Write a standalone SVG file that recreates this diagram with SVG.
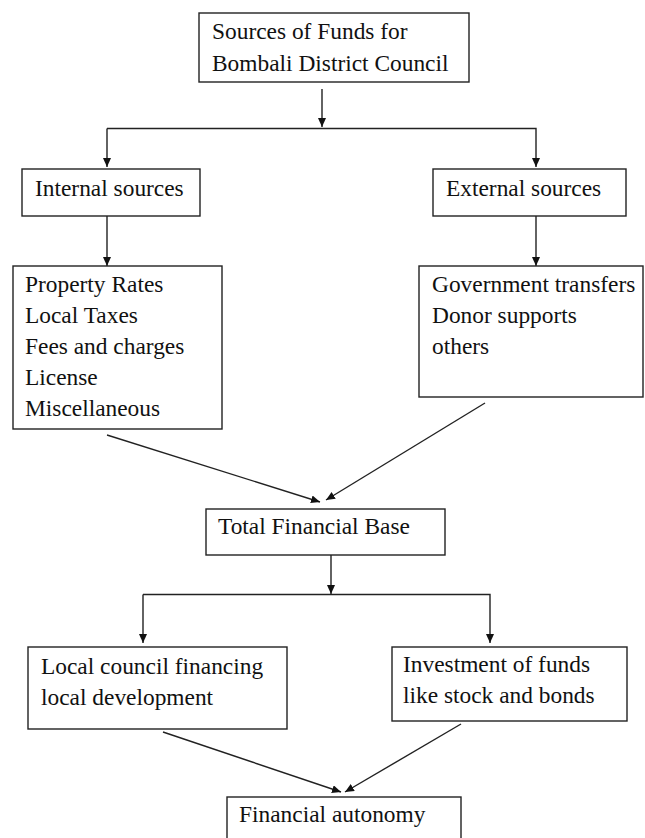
<svg xmlns="http://www.w3.org/2000/svg" width="645" height="838" viewBox="0 0 645 838">
<style>
.box{fill:#fff;stroke:#222;stroke-width:1.4}
.t{font-family:'Liberation Serif','Times New Roman','DejaVu Serif',serif;font-size:23.4px;fill:#111}
.c{fill:none;stroke:#222;stroke-width:1.4}
</style>
<defs>
<marker id="ah" markerUnits="userSpaceOnUse" markerWidth="10" markerHeight="9" refX="9" refY="4" orient="auto">
<path d="M0,0 L9,4 L0,8 z" fill="#111"/>
</marker>
</defs>
<rect width="645" height="838" fill="#fff"/>
<g id="connectors">
<line class="c" x1="322" y1="89" x2="322" y2="127" marker-end="url(#ah)"/>
<polyline class="c" points="107,128.5 536,128.5 536,167" marker-end="url(#ah)"/>
<path class="c" d="M107,128.5 L107,167" marker-end="url(#ah)"/>
<line class="c" x1="107" y1="216" x2="107" y2="266" marker-end="url(#ah)"/>
<line class="c" x1="536" y1="216" x2="536" y2="266" marker-end="url(#ah)"/>
<line class="c" x1="107" y1="435" x2="320" y2="502" marker-end="url(#ah)"/>
<line class="c" x1="485" y1="403" x2="326" y2="500" marker-end="url(#ah)"/>
<line class="c" x1="331" y1="555" x2="331" y2="594" marker-end="url(#ah)"/>
<polyline class="c" points="143,594.5 490,594.5 490,643" marker-end="url(#ah)"/>
<path class="c" d="M143,594.5 L143,643" marker-end="url(#ah)"/>
<line class="c" x1="163" y1="732" x2="341" y2="792" marker-end="url(#ah)"/>
<line class="c" x1="461" y1="724" x2="345" y2="792" marker-end="url(#ah)"/>
</g>
<g id="n-sources">
<rect class="box" x="199" y="13" width="270" height="69"/>
<text class="t" font-family="Liberation Serif, serif" x="212" y="39">Sources of Funds for</text>
<text class="t" font-family="Liberation Serif, serif" x="212" y="71">Bombali District Council</text>
</g>
<g id="n-internal">
<rect class="box" x="22" y="169" width="178" height="47"/>
<text class="t" x="35" y="196">Internal sources</text>
</g>
<g id="n-external">
<rect class="box" x="433" y="169" width="193" height="47"/>
<text class="t" x="446" y="196">External sources</text>
</g>
<g id="n-internal-list">
<rect class="box" x="13" y="266" width="209" height="163"/>
<text class="t" x="25" y="292">Property Rates</text>
<text class="t" x="25" y="323">Local Taxes</text>
<text class="t" x="25" y="354">Fees and charges</text>
<text class="t" x="25" y="385">License</text>
<text class="t" x="25" y="416">Miscellaneous</text>
</g>
<g id="n-external-list">
<rect class="box" x="419" y="266" width="224" height="131"/>
<text class="t" x="432" y="292">Government transfers</text>
<text class="t" x="432" y="323">Donor supports</text>
<text class="t" x="432" y="354">others</text>
</g>
<g id="n-total">
<rect class="box" x="206" y="509" width="239" height="46"/>
<text class="t" x="218" y="534">Total Financial Base</text>
</g>
<g id="n-local">
<rect class="box" x="28" y="647" width="259" height="82"/>
<text class="t" x="41" y="674">Local council financing</text>
<text class="t" x="41" y="705">local development</text>
</g>
<g id="n-invest">
<rect class="box" x="392" y="647" width="235" height="74"/>
<text class="t" x="403" y="672">Investment of funds</text>
<text class="t" x="403" y="703">like stock and bonds</text>
</g>
<g id="n-autonomy">
<rect class="box" x="227" y="797" width="234" height="50"/>
<text class="t" x="239" y="822">Financial autonomy</text>
</g>
</svg>
